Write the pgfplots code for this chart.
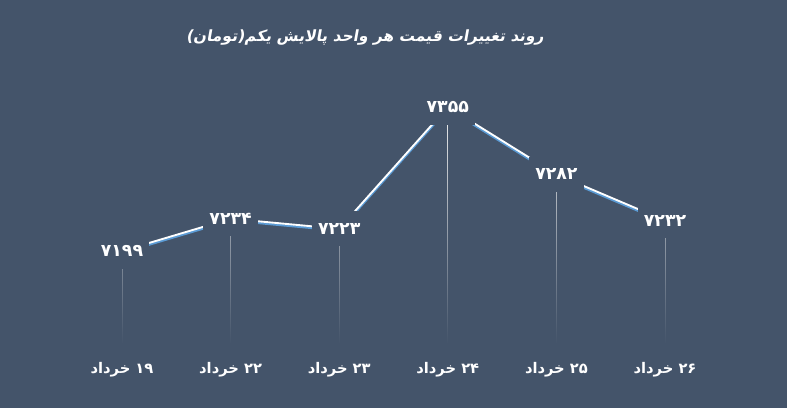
\documentclass[border=0pt]{standalone}
\usepackage{pgfplots}
\pgfplotsset{compat=1.18}
\usepackage{fontspec}
\usetikzlibrary{fadings}
\TeXXeTstate=1
\newfontfamily\arabicfont[Script=Arabic]{DejaVu Sans}
\newfontfamily\titlefont[Script=Arabic, FakeSlant=0.18, BoldFeatures={FakeSlant=0.18}]{DejaVu Sans}
\definecolor{bg}{HTML}{44546A}
\definecolor{shadowblue}{HTML}{5B9BD5}
\tikzfading[name=dropfade, top color=transparent!0, middle color=transparent!5, bottom color=transparent!100]
\begin{document}
\begin{tikzpicture}
\fill[bg] (0pt,0pt) rectangle (590.25pt,306pt);
\node[text=white, font=\titlefont\bfseries\fontsize{11.6}{14}\selectfont] at (273.75pt,277.5pt) {\beginR روند تغییرات قیمت هر واحد پالایش یکم(تومان)\endR};
\begin{axis}[
  at={(10.05pt,47.25pt)}, anchor=south west,
  scale only axis, width=570.15pt, height=213.75pt,
  xmin=-1, xmax=6, ymin=7097.2, ymax=7405.9,
  clip=false,
  axis line style={draw=none},
  tick style={draw=none},
  ytick=\empty,
  xtick={0,1,2,3,4,5},
  xticklabels={{\beginR ۱۹ خرداد\endR},{\beginR ۲۲ خرداد\endR},{\beginR ۲۳ خرداد\endR},{\beginR ۲۴ خرداد\endR},{\beginR ۲۵ خرداد\endR},{\beginR ۲۶ خرداد\endR}},
  xticklabel style={font=\arabicfont\bfseries\fontsize{11}{13}\selectfont, text=white, yshift=-9.5pt},
  unbounded coords=jump,
]
\addplot[draw=white!88!gray, line width=0.8pt, path fading=dropfade, forget plot] coordinates {
  (0,7099) (0,7199) (0,nan)
  (1,7099) (1,7234) (1,nan)
  (2,7099) (2,7223) (2,nan)
  (3,7099) (3,7355) (3,nan)
  (4,7099) (4,7282) (4,nan)
  (5,7099) (5,7232)
};
\addplot[draw=shadowblue, line width=1.6pt, yshift=-1.3pt, mark=none] coordinates {
  (0,7199) (1,7234) (2,7223) (3,7355) (4,7282) (5,7232)
};
\addplot[draw=white, line width=1.4pt, mark=none,
  point meta=explicit symbolic,
  nodes near coords={\pgfplotspointmeta},
  every node near coord/.append style={anchor=center, fill=bg, text=white,
    inner xsep=4.5pt, inner ysep=9pt,
    font=\arabicfont\bfseries\fontsize{13}{15}\selectfont},
] coordinates {
  (0,7199) [۷۱۹۹]
  (1,7234) [۷۲۳۴]
  (2,7223) [۷۲۲۳]
  (3,7355) [۷۳۵۵]
  (4,7282) [۷۲۸۲]
  (5,7232) [۷۲۳۲]
};
\end{axis}
\end{tikzpicture}
\end{document}
